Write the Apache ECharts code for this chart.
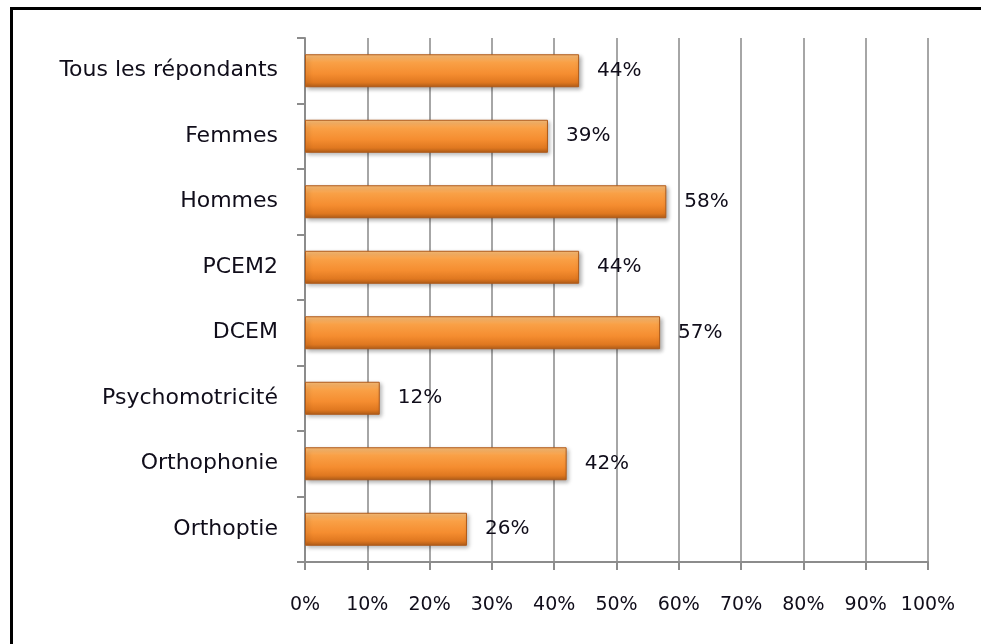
<!DOCTYPE html>
<html lang="fr">
<head>
    <meta charset="UTF-8">
    <title>Répondants</title>
    <style>
        html, body { margin: 0; padding: 0; background: #fff; }
        #frame {
            position: absolute; left: 10px; top: 7px; width: 980px; height: 650px;
            border-left: 3px solid #000; border-top: 3px solid #000;
        }
        #main { position: absolute; left: 0; top: 0; width: 981px; height: 644px; }
    </style>
    <script src="https://cdn.jsdelivr.net/npm/echarts@6/dist/echarts.min.js"></script>
</head>
<body>
<div id="frame"></div>
<div id="main"></div>
<script type="text/javascript">
    // catégories (de haut en bas) et valeurs en %
    var categories = ['Tous les répondants', 'Femmes', 'Hommes', 'PCEM2', 'DCEM', 'Psychomotricité', 'Orthophonie', 'Orthoptie'];
    var values = [44, 39, 58, 44, 57, 12, 42, 26];

    var myChart = echarts.init(document.getElementById('main'));
    var textColor = '#100d1a';
    var font = '"DejaVu Sans", Verdana, sans-serif';

    var barColor = new echarts.graphic.LinearGradient(0, 0, 0, 1, [
        { offset: 0, color: '#fcc07a' },
        { offset: 0.25, color: '#f9a046' },
        { offset: 0.6, color: '#f58d30' },
        { offset: 0.85, color: '#e07820' },
        { offset: 1, color: '#b15d18' }
    ]);

    var option = {
        animation: false,
        grid: { left: 305, right: 53, top: 38, bottom: 82 },
        xAxis: {
            type: 'value',
            min: 0, max: 100, interval: 10,
            axisLine: { show: true, lineStyle: { color: '#8c8c8c', width: 2 } },
            axisTick: { show: true, length: 8, lineStyle: { color: '#8c8c8c', width: 2 } },
            splitLine: { show: true, lineStyle: { color: '#a6a6a6', width: 2 } },
            axisLabel: {
                formatter: '{value}%', color: textColor, fontSize: 19,
                fontFamily: font, margin: 34
            }
        },
        yAxis: {
            type: 'category',
            inverse: true,
            data: categories,
            axisLine: { show: true, lineStyle: { color: '#8c8c8c', width: 2 } },
            axisTick: { show: true, length: 8, lineStyle: { color: '#8c8c8c', width: 2 } },
            axisLabel: { color: textColor, fontSize: 22, fontFamily: font, margin: 27 }
        },
        series: [{
            type: 'bar',
            data: values,
            barWidth: 33,
            itemStyle: {
                color: barColor,
                borderColor: '#b05a18',
                borderWidth: 1,
                shadowColor: 'rgba(0,0,0,0.3)',
                shadowBlur: 4,
                shadowOffsetX: 2,
                shadowOffsetY: 2
            },
            label: {
                show: true,
                position: 'right',
                distance: 18,
                formatter: '{c}%',
                color: textColor,
                fontSize: 20,
                fontFamily: font
            }
        }]
    };
    myChart.setOption(option);
</script>
</body>
</html>
